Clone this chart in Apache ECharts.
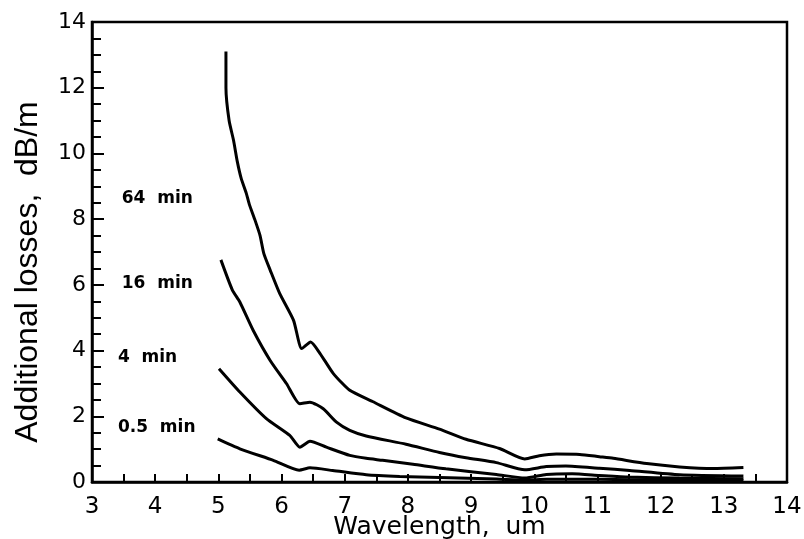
<!DOCTYPE html>
<html><head><meta charset="utf-8">
<script src="https://cdn.jsdelivr.net/npm/echarts@6/dist/echarts.min.js"></script>
<style>html,body{margin:0;padding:0;background:#fff}#c{width:804px;height:539px}</style>
</head><body><div id="c"></div>
<script>
const seriesNames = ['64  min', '16  min', '4  min', '0.5  min'];
const wl64 = [5.12, 5.12, 5.17, 5.24, 5.30, 5.36, 5.44, 5.49, 5.58, 5.66, 5.72, 5.82, 5.97, 6.19, 6.32, 6.46, 6.61, 6.82, 7.08, 7.44, 7.97, 8.50, 8.92, 9.45, 9.85, 10.08, 10.35, 10.72, 11.03, 11.25, 11.78, 12.30, 12.83, 13.31];
const loss64 = [13.1, 12.0, 11.0, 10.4, 9.75, 9.25, 8.8, 8.45, 7.97, 7.5, 6.95, 6.45, 5.74, 4.92, 4.06, 4.26, 3.91, 3.30, 2.79, 2.45, 1.95, 1.61, 1.30, 1.02, 0.70, 0.80, 0.85, 0.84, 0.77, 0.72, 0.56, 0.46, 0.41, 0.44];
const wl16 = [5.04, 5.22, 5.34, 5.55, 5.82, 6.08, 6.29, 6.45, 6.66, 6.87, 7.08, 7.34, 7.97, 8.50, 8.92, 9.40, 9.85, 10.19, 10.50, 11.03, 11.51, 12.30, 13.31];
const loss16 = [6.76, 5.85, 5.48, 4.62, 3.70, 2.99, 2.38, 2.43, 2.23, 1.82, 1.57, 1.40, 1.15, 0.90, 0.74, 0.59, 0.37, 0.47, 0.49, 0.42, 0.35, 0.22, 0.18];
const wl4 = [5.01, 5.34, 5.76, 6.13, 6.29, 6.45, 6.71, 7.08, 7.34, 7.60, 8.08, 8.60, 9.40, 9.85, 10.19, 10.60, 11.03, 11.50, 12.30, 13.31];
const loss4 = [3.45, 2.74, 1.93, 1.42, 1.06, 1.24, 1.06, 0.81, 0.72, 0.66, 0.54, 0.40, 0.23, 0.12, 0.23, 0.25, 0.20, 0.15, 0.12, 0.10];
const wl05 = [4.99, 5.34, 5.87, 6.28, 6.45, 6.81, 7.34, 7.87, 8.50, 9.40, 9.85, 10.20, 11.03, 12.00, 13.31];
const loss05 = [1.31, 1.01, 0.66, 0.36, 0.43, 0.35, 0.22, 0.17, 0.14, 0.09, 0.05, 0.08, 0.08, 0.06, 0.05];
const xTicks = [3, 4, 5, 6, 7, 8, 9, 10, 11, 12, 13, 14];
const yTicks = [0, 2, 4, 6, 8, 10, 12, 14];

const pairs = (xs, ys) => xs.map((x, i) => [x, ys[i]]);
const allWl = [wl64, wl16, wl4, wl05];
const allLoss = [loss64, loss16, loss4, loss05];
const labelCoords = [[3.47, 8.63], [3.47, 6.04], [3.41, 3.78], [3.41, 1.65]];

const chart = echarts.init(document.getElementById('c'));
chart.setOption({
  backgroundColor: '#fff',
  animation: false,
  grid: { left: 92, right: 17, top: 22, bottom: 57, outerBoundsMode: 'none', containLabel: false, show: true, borderColor: '#000', borderWidth: 2.5, backgroundColor: 'transparent' },
  xAxis: {
    type: 'value', min: xTicks[0], max: xTicks[xTicks.length - 1], interval: 1,
    name: 'Wavelength,  um', nameLocation: 'middle', nameGap: 33, nameMoveOverlap: false,
    nameTextStyle: { fontFamily: 'DejaVu Sans', fontSize: 25, color: '#000', verticalAlign: 'top' },
    axisLine: { lineStyle: { color: '#000', width: 2.5 } },
    axisTick: { inside: true, length: 8, lineStyle: { color: '#000', width: 2 } },
    minorTick: { show: true, splitNumber: 2, length: 8, lineStyle: { color: '#000', width: 2 } },
    axisLabel: { fontFamily: 'DejaVu Sans', fontSize: 23, color: '#000', margin: 14 },
    splitLine: { show: false }
  },
  yAxis: {
    type: 'value', min: yTicks[0], max: yTicks[yTicks.length - 1], interval: 2,
    name: 'Additional losses,  dB/m', nameLocation: 'middle', nameGap: 48, nameRotate: 90, nameMoveOverlap: false,
    nameTextStyle: { fontFamily: 'Liberation Sans', fontSize: 32, color: '#000', padding: [0, 0, 0, -40] },
    axisLine: { lineStyle: { color: '#000', width: 2.5 } },
    axisTick: { inside: true, length: 12, lineStyle: { color: '#000', width: 2 } },
    minorTick: { show: true, splitNumber: 4, length: 9, lineStyle: { color: '#000', width: 2 } },
    axisLabel: { fontFamily: 'DejaVu Sans', fontSize: 22, color: '#000', margin: 6 },
    splitLine: { show: false }
  },
  series: seriesNames.map((n, i) => ({
    name: n, type: 'line', data: pairs(allWl[i], allLoss[i]),
    showSymbol: false, smooth: 0.2,
    lineStyle: { color: '#000', width: 3 },
    markPoint: {
      symbol: 'circle', symbolSize: 0,
      data: [{ coord: labelCoords[i], value: n }],
      label: { show: true, position: 'right', distance: 0, formatter: n, fontFamily: 'DejaVu Sans', fontWeight: 'bold', fontSize: 17, color: '#000' }
    }
  }))
});
</script></body></html>
